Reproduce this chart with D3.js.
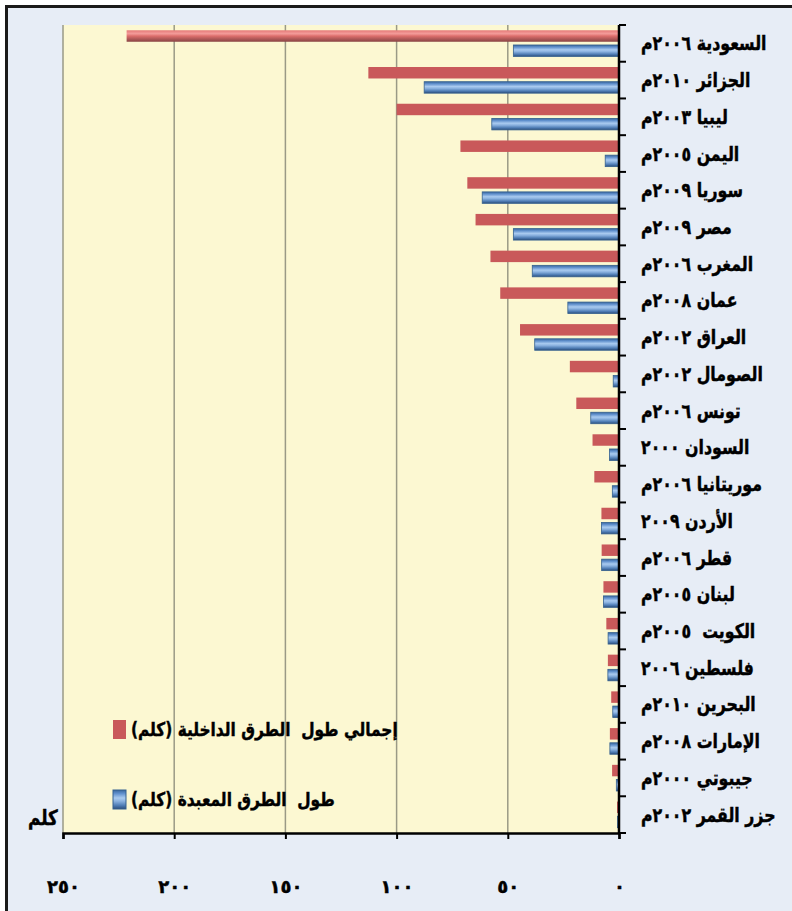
<!DOCTYPE html>
<html>
<head>
<meta charset="utf-8">
<script src="https://cdnjs.cloudflare.com/ajax/libs/d3/7.8.5/d3.min.js"></script>
<style>
  html, body { margin: 0; padding: 0; background: #ffffff; }
  svg { display: block; }
  text { font-family: "DejaVu Sans", sans-serif; font-weight: bold; fill: #000; white-space: pre;
         stroke: #000; stroke-width: 0.45px; }
</style>
</head>
<body>
<svg id="chart" width="792" height="911"></svg>
<script>
// Road network length per Arab country (thousand km)
const countries = [
  "السعودية ٢٠٠٦م", "الجزائر ٢٠١٠م", "ليبيا ٢٠٠٣م", "اليمن ٢٠٠٥م",
  "سوريا ٢٠٠٩م", "مصر ٢٠٠٩م", "المغرب ٢٠٠٦م", "عمان ٢٠٠٨م",
  "العراق ٢٠٠٢م", "الصومال ٢٠٠٢م", "تونس ٢٠٠٦م", "السودان ٢٠٠٠",
  "موريتانيا ٢٠٠٦م", "الأردن ٢٠٠٩", "قطر ٢٠٠٦م", "لبنان ٢٠٠٥م",
  "الكويت  ٢٠٠٥م", "فلسطين ٢٠٠٦", "البحرين ٢٠١٠م", "الإمارات ٢٠٠٨م",
  "جيبوتي ٢٠٠٠م", "جزر القمر ٢٠٠٢م"
];
const totalRoads = [221.4, 112.7, 100.0, 71.3, 68.2, 64.5, 57.8, 53.4, 44.5, 22.1, 19.2, 11.9,
                    11.1, 7.9, 7.8, 7.0, 5.7, 5.0, 3.5, 4.1, 3.1, 0.9];
const pavedRoads = [47.5, 87.6, 57.2, 6.2, 61.5, 47.5, 39.0, 23.0, 37.9, 2.6, 12.7, 4.3,
                    3.0, 7.9, 7.8, 7.0, 4.9, 5.0, 2.8, 4.1, 1.2, 0.7];
const tickValues = [0, 50, 100, 150, 200, 250];
const tickLabels = ["٠", "٥٠", "١٠٠", "١٥٠", "٢٠٠", "٢٥٠"];
const seriesNames = ["إجمالي طول  الطرق الداخلية (كلم)", "طول  الطرق المعبدة (كلم)"];
const unitLabel = "كلم";

const svg = d3.select("#chart");

// Outer frame
svg.append("rect")
  .attr("x", 6.5).attr("y", 6.5).attr("width", 900).attr("height", 1000)
  .attr("fill", "#e7edf6").attr("stroke", "#1a1a1a").attr("stroke-width", 3);

const plot = { left: 63, right: 619, top: 25, bottom: 833 };

const x = d3.scaleLinear().domain([0, 250]).range([plot.right, plot.left]);
const y = d3.scaleBand().domain(countries).range([plot.top, plot.bottom]).padding(0);
const sub = d3.scaleBand().domain(["total", "paved"]).range([0, y.bandwidth()])
  .paddingInner(0.22).paddingOuter(0.36);

// Gradients
const defs = svg.append("defs");
const blueGrad = defs.append("linearGradient").attr("id", "blueBar")
  .attr("x1", 0).attr("y1", 0).attr("x2", 0).attr("y2", 1);
[[0, "#3a669c"], [0.18, "#5f8fcc"], [0.42, "#a9caef"], [0.58, "#8bb2e0"], [0.82, "#4d7bb3"], [1, "#2d4e7b"]]
  .forEach(([o, c]) => blueGrad.append("stop").attr("offset", o).attr("stop-color", c));
const redGrad = defs.append("linearGradient").attr("id", "redBevel")
  .attr("x1", 0).attr("y1", 0).attr("x2", 0).attr("y2", 1);
[[0, "#e57a78"], [0.3, "#f39b99"], [0.5, "#dd6e6c"], [0.8, "#a85454"], [1, "#884444"]]
  .forEach(([o, c]) => redGrad.append("stop").attr("offset", o).attr("stop-color", c));

// Plot background
svg.append("rect")
  .attr("x", plot.left).attr("y", plot.top)
  .attr("width", plot.right - plot.left).attr("height", plot.bottom - plot.top)
  .attr("fill", "#fcf8d2");

// Vertical gridlines
svg.append("g").selectAll("line").data(tickValues.slice(1)).join("line")
  .attr("x1", d => x(d)).attr("x2", d => x(d))
  .attr("y1", plot.top).attr("y2", plot.bottom)
  .attr("stroke", "#9a9a86").attr("stroke-width", 1.5);

// Bars
const rows = countries.map((c, i) => ({ c, total: totalRoads[i], paved: pavedRoads[i], i }));
svg.append("g").selectAll("rect").data(rows).join("rect")
  .attr("x", d => x(d.total)).attr("width", d => x(0) - x(d.total))
  .attr("y", d => y(d.c) + sub("total")).attr("height", sub.bandwidth())
  .attr("fill", d => d.i === 0 ? "url(#redBevel)" : "#c9595a");
svg.append("g").selectAll("rect").data(rows).join("rect")
  .attr("x", d => x(d.paved)).attr("width", d => x(0) - x(d.paved))
  .attr("y", d => y(d.c) + sub("paved")).attr("height", sub.bandwidth())
  .attr("fill", "url(#blueBar)").attr("stroke", "#34608f").attr("stroke-width", 0.8);

// Bottom axis
const xAxis = d3.axisBottom(x).tickValues(tickValues).tickSize(6)
  .tickFormat((d, i) => tickLabels[i]);
const gx = svg.append("g").attr("transform", `translate(0,${plot.bottom})`).call(xAxis);
gx.select(".domain").attr("stroke", "#000").attr("stroke-width", 2.5);
gx.selectAll(".tick line").attr("stroke", "#000").attr("stroke-width", 2);
gx.selectAll(".tick text").attr("y", 47).attr("font-size", 18)
  .attr("font-family", "DejaVu Sans").attr("font-weight", "bold").attr("fill", "#000");

// Category axis on the right with ticks at band boundaries
svg.append("line").attr("x1", plot.right).attr("x2", plot.right)
  .attr("y1", plot.top).attr("y2", plot.bottom + 1)
  .attr("stroke", "#000").attr("stroke-width", 2.5);
const boundaries = countries.map(c => y(c)).concat([plot.bottom]);
svg.append("g").selectAll("line").data(boundaries).join("line")
  .attr("x1", plot.right).attr("x2", plot.right + 7)
  .attr("y1", d => d).attr("y2", d => d)
  .attr("stroke", "#000").attr("stroke-width", 2);

// Category labels (condensed, left-aligned next to the axis)
svg.append("g").selectAll("text").data(countries).join("text")
  .attr("transform", d => `translate(641,${y(d) + y.bandwidth() / 2}) scale(0.79,1)`)
  .attr("x", 0).attr("dy", "0.35em")
  .attr("direction", "rtl").attr("text-anchor", "end")
  .attr("font-size", 20)
  .text(d => d);

// Unit label
svg.append("text").attr("transform", "translate(43,818) scale(0.8,1)")
  .attr("dy", "0.35em")
  .attr("text-anchor", "middle").attr("font-size", 21).text(unitLabel);

// Legend
const legend = svg.append("g");
const legendRows = [
  { name: seriesNames[0], y: 729, fill: "#c9595a", stroke: "none" },
  { name: seriesNames[1], y: 799, fill: "url(#blueBar)", stroke: "#34608f" }
];
legendRows.forEach(r => {
  legend.append("rect").attr("x", 113).attr("y", r.y - 9).attr("width", 13).attr("height", 19)
    .attr("fill", r.fill).attr("stroke", r.stroke);
  legend.append("text").attr("transform", `translate(131,${r.y}) scale(0.81,1)`)
    .attr("dy", "0.35em")
    .attr("direction", "rtl").attr("text-anchor", "end")
    .attr("font-size", 19).text(r.name);
});
</script>
</body>
</html>
